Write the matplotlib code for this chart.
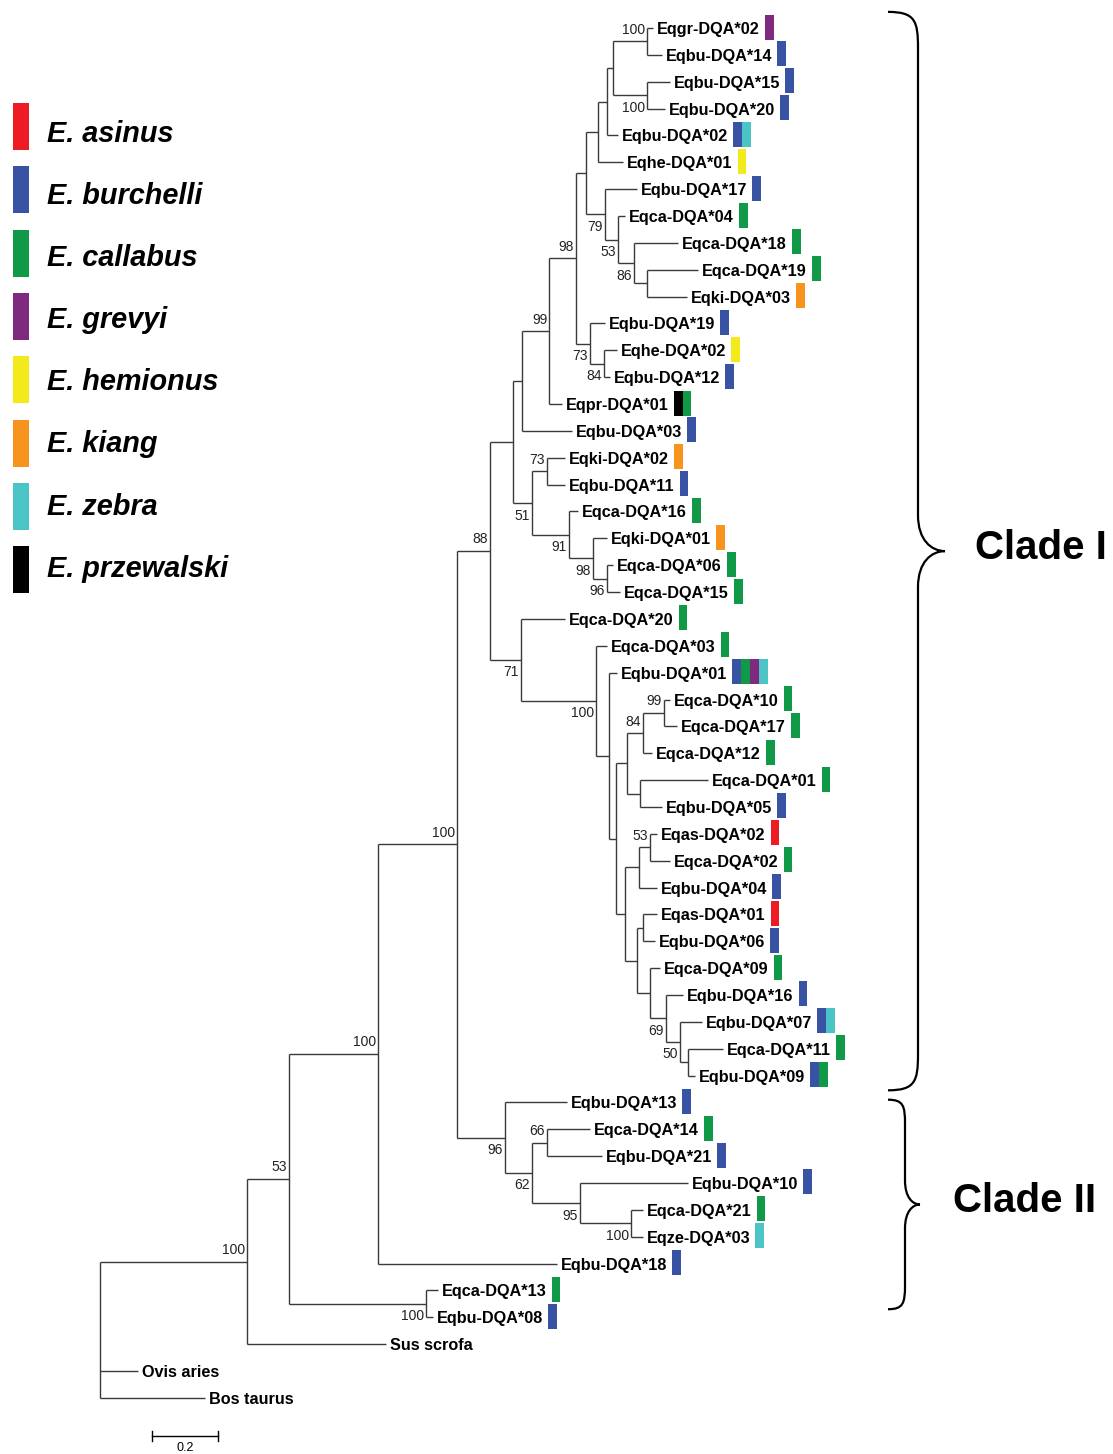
import matplotlib
matplotlib.use("Agg")
import matplotlib.pyplot as plt
from matplotlib import font_manager
from matplotlib.path import Path
from matplotlib.patches import PathPatch, Rectangle

# ---- leaves (top to bottom), tip depth from root, species carrying the allele
leaf_names = [
    "Eqgr-DQA*02", "Eqbu-DQA*14", "Eqbu-DQA*15", "Eqbu-DQA*20", "Eqbu-DQA*02",
    "Eqhe-DQA*01", "Eqbu-DQA*17", "Eqca-DQA*04", "Eqca-DQA*18", "Eqca-DQA*19",
    "Eqki-DQA*03", "Eqbu-DQA*19", "Eqhe-DQA*02", "Eqbu-DQA*12", "Eqpr-DQA*01",
    "Eqbu-DQA*03", "Eqki-DQA*02", "Eqbu-DQA*11", "Eqca-DQA*16", "Eqki-DQA*01",
    "Eqca-DQA*06", "Eqca-DQA*15", "Eqca-DQA*20", "Eqca-DQA*03", "Eqbu-DQA*01",
    "Eqca-DQA*10", "Eqca-DQA*17", "Eqca-DQA*12", "Eqca-DQA*01", "Eqbu-DQA*05",
    "Eqas-DQA*02", "Eqca-DQA*02", "Eqbu-DQA*04", "Eqas-DQA*01", "Eqbu-DQA*06",
    "Eqca-DQA*09", "Eqbu-DQA*16", "Eqbu-DQA*07", "Eqca-DQA*11", "Eqbu-DQA*09",
    "Eqbu-DQA*13", "Eqca-DQA*14", "Eqbu-DQA*21", "Eqbu-DQA*10", "Eqca-DQA*21",
    "Eqze-DQA*03", "Eqbu-DQA*18", "Eqca-DQA*13", "Eqbu-DQA*08", "Sus scrofa",
    "Ovis aries", "Bos taurus",
]
leaf_depth = [
    1.676, 1.703, 1.727, 1.712, 1.570,
    1.585, 1.627, 1.591, 1.752, 1.812,
    1.779, 1.530, 1.567, 1.545, 1.400,
    1.430, 1.409, 1.409, 1.448, 1.536,
    1.555, 1.576, 1.409, 1.536, 1.567,
    1.727, 1.748, 1.673, 1.842, 1.703,
    1.688, 1.727, 1.688, 1.688, 1.682,
    1.697, 1.767, 1.824, 1.888, 1.803,
    1.415, 1.485, 1.521, 1.782, 1.645,
    1.645, 1.385, 1.024, 1.009, 0.867,
    0.115, 0.318,
]
leaf_species = [
    "gr", "bu", "bu", "bu", "bu ze",
    "he", "bu", "ca", "ca", "ca",
    "ki", "bu", "he", "bu", "pr ca",
    "bu", "ki", "bu", "ca", "ki",
    "ca", "ca", "ca", "ca", "bu ca gr ze",
    "ca", "ca", "ca", "ca", "bu",
    "as", "ca", "bu", "as", "bu",
    "ca", "bu", "bu ze", "ca", "bu ca",
    "bu", "ca", "bu", "bu", "ca",
    "ze", "bu", "ca", "bu", "",
    "", "",
]

# ---- internal nodes: depth from root, children, bootstrap support
node_ids = [
    "root", "B", "C", "D", "E", "F", "G", "N", "P", "R", "S", "AQ", "AP", "AO",
    "AN", "AL", "AM", "AR", "AS", "AT", "AU", "AK", "AV", "Q", "AW", "AX", "AY",
    "AZ", "O", "T", "U", "V", "X", "Y", "AA", "Z", "W", "AB", "AC", "AD", "AE",
    "AF", "AG", "AH", "AI", "H", "I", "J", "K", "L",
]
node_depth = [
    0.000, 0.445, 0.573, 0.842, 0.988, 1.082, 1.182, 1.252, 1.279, 1.361, 1.442,
    1.473, 1.509, 1.536, 1.555, 1.658, 1.658, 1.530, 1.570, 1.618, 1.658, 1.485,
    1.527, 1.309, 1.355, 1.421, 1.494, 1.536, 1.276, 1.503, 1.542, 1.564, 1.597,
    1.645, 1.709, 1.636, 1.591, 1.633, 1.667, 1.627, 1.645, 1.667, 1.715, 1.758,
    1.782, 1.227, 1.309, 1.355, 1.455, 1.609,
]
node_children = [
    ["B", "Ovis aries", "Bos taurus"],
    ["C", "Sus scrofa"],
    ["D", "E"],
    ["F", "Eqbu-DQA*18"],
    ["Eqca-DQA*13", "Eqbu-DQA*08"],
    ["G", "H"],
    ["N", "O"],
    ["P", "Q"],
    ["R", "Eqbu-DQA*03"],
    ["S", "Eqpr-DQA*01"],
    ["AQ", "AK"],
    ["AP", "AR"],
    ["AO", "Eqhe-DQA*01"],
    ["AN", "Eqbu-DQA*02"],
    ["AL", "AM"],
    ["Eqgr-DQA*02", "Eqbu-DQA*14"],
    ["Eqbu-DQA*15", "Eqbu-DQA*20"],
    ["Eqbu-DQA*17", "AS"],
    ["Eqca-DQA*04", "AT"],
    ["Eqca-DQA*18", "AU"],
    ["Eqca-DQA*19", "Eqki-DQA*03"],
    ["Eqbu-DQA*19", "AV"],
    ["Eqhe-DQA*02", "Eqbu-DQA*12"],
    ["AW", "AX"],
    ["Eqki-DQA*02", "Eqbu-DQA*11"],
    ["Eqca-DQA*16", "AY"],
    ["Eqki-DQA*01", "AZ"],
    ["Eqca-DQA*06", "Eqca-DQA*15"],
    ["Eqca-DQA*20", "T"],
    ["Eqca-DQA*03", "U"],
    ["Eqbu-DQA*01", "V"],
    ["X", "W"],
    ["Y", "Z"],
    ["AA", "Eqca-DQA*12"],
    ["Eqca-DQA*10", "Eqca-DQA*17"],
    ["Eqca-DQA*01", "Eqbu-DQA*05"],
    ["AB", "AD"],
    ["AC", "Eqbu-DQA*04"],
    ["Eqas-DQA*02", "Eqca-DQA*02"],
    ["AE", "AF"],
    ["Eqas-DQA*01", "Eqbu-DQA*06"],
    ["Eqca-DQA*09", "AG"],
    ["Eqbu-DQA*16", "AH"],
    ["Eqbu-DQA*07", "AI"],
    ["Eqca-DQA*11", "Eqbu-DQA*09"],
    ["Eqbu-DQA*13", "I"],
    ["J", "K"],
    ["Eqca-DQA*14", "Eqbu-DQA*21"],
    ["Eqbu-DQA*10", "L"],
    ["Eqca-DQA*21", "Eqze-DQA*03"],
]
node_support = [
    None, 100, 53, 100, 100, 100, 88, None, None, 99, 98, None, None, None,
    None, 100, 100, 79, 53, 86, None, 73, 84, 51, 73, 91, 98,
    96, 71, 100, None, None, None, 84, 99, None, None, None, 53, None, None,
    None, 69, 50, None, 96, 62, 66, 95, 100,
]
support_below = [
    False, False, False, False, True, False, False, False, False, False, False, False, False, False,
    False, False, True, True, True, True, False, True, True, True, False, True, True,
    True, True, True, False, False, False, False, False, False, False, False, False, False, False,
    False, True, True, False, True, True, False, True, True,
]

species_codes = ["as", "bu", "ca", "gr", "he", "ki", "ze", "pr"]
species_names = ["E. asinus", "E. burchelli", "E. callabus", "E. grevyi",
                 "E. hemionus", "E. kiang", "E. zebra", "E. przewalski"]
species_colors = ["#ed1c24", "#3953a4", "#109a47", "#7e2a7e",
                  "#f2ea1a", "#f7941d", "#4bc4c6", "#000000"]

clade_labels = ["Clade I", "Clade II"]
clade_rows = [(-0.6, 39.55), (39.9, 47.7)]

scale_len = 0.2

# ---- layout (pixels)
W, H = 1113, 1454
px_unit = 330.0      # pixels per substitution unit
px_row = 26.86       # pixels per leaf row
x0_px, y0_px = 100, 28

installed = {f.name for f in font_manager.fontManager.ttflist}
if "Liberation Sans Narrow" in installed:
    leaf_font, leaf_size = "Liberation Sans Narrow", 13.8
else:
    leaf_font, leaf_size = "Liberation Sans", 11.7
plt.rcParams["font.family"] = ["Liberation Sans", "DejaVu Sans"]

depth = dict(zip(leaf_names, leaf_depth))
depth.update(zip(node_ids, node_depth))
children = dict(zip(node_ids, node_children))
row = {n: i for i, n in enumerate(leaf_names)}


def place(n):
    if n in row:
        return row[n]
    ys = [place(c) for c in children[n]]
    row[n] = (ys[0] + ys[-1]) / 2
    return row[n]


place("root")

fig = plt.figure(figsize=(W / 100, H / 100), dpi=100)
ax = fig.add_axes([0, 0, 1, 1])
ax.set_xlim(-x0_px / px_unit, (W - x0_px) / px_unit)
ax.set_ylim((H - y0_px) / px_row, -y0_px / px_row)
ax.axis("off")

line_c = "#3a3a3a"
for n, kids in zip(node_ids, node_children):
    ys = [row[k] for k in kids]
    ax.plot([depth[n], depth[n]], [ys[0], ys[-1]], color=line_c, lw=1.0,
            solid_capstyle="butt")
    for k in kids:
        ax.plot([depth[n], depth[k]], [row[k], row[k]], color=line_c, lw=1.0,
                solid_capstyle="butt")

pt = 0.72  # points per pixel at 100 dpi
leaf_texts = []
for name in leaf_names:
    t = ax.annotate(name, (depth[name], row[name]), xytext=(4 * pt, -1.5 * pt),
                    textcoords="offset points", ha="left", va="center",
                    fontsize=leaf_size, fontweight="bold", family=leaf_font,
                    color="black")
    leaf_texts.append(t)

for n, s, below in zip(node_ids, node_support, support_below):
    if s is None:
        continue
    dy = -12.5 if below else 11.5
    ax.annotate(str(s), (depth[n], row[n]), xytext=(-2 * pt, dy * pt),
                textcoords="offset points", ha="right", va="center",
                fontsize=10, color="#222222")

# scale bar
sb_x, sb_row = 0.158, (1436 - y0_px) / px_row
tick = 5 / px_row
ax.plot([sb_x, sb_x + scale_len], [sb_row, sb_row], color="black", lw=1.0)
ax.plot([sb_x, sb_x], [sb_row - tick, sb_row + tick], color="black", lw=1.0)
ax.plot([sb_x + scale_len] * 2, [sb_row - tick, sb_row + tick], color="black", lw=1.0)
ax.annotate(str(scale_len), (sb_x + scale_len / 2, sb_row), xytext=(0, -6 * pt),
            textcoords="offset points", ha="center", va="top", fontsize=9)

# overlay in pixel coordinates
ov = fig.add_axes([0, 0, 1, 1])
ov.set_xlim(0, W)
ov.set_ylim(H, 0)
ov.axis("off")
ov.patch.set_alpha(0)

fig.canvas.draw()
renderer = fig.canvas.get_renderer()
color_of = dict(zip(species_codes, species_colors))
bar_w, bar_h = 8.8, 25
for name, sp, t in zip(leaf_names, leaf_species, leaf_texts):
    if not sp:
        continue
    bb = t.get_window_extent(renderer)
    x = bb.x1 + 5
    yc = y0_px + row[name] * px_row - 1
    for j, code in enumerate(sp.split()):
        ov.add_patch(Rectangle((x + j * bar_w, yc - bar_h / 2), bar_w, bar_h,
                               facecolor=color_of[code], edgecolor="none"))

# legend
for i, (nm, c) in enumerate(zip(species_names, species_colors)):
    cy = 126.5 + i * 63.3
    ov.add_patch(Rectangle((13, cy - 23.5), 16, 47, facecolor=c, edgecolor="none"))
    ov.text(47, 142 + i * 62.1, nm, fontsize=20.8, fontweight="bold",
            fontstyle="italic", ha="left", va="baseline")


def brace(x0, top, bot, w, tip, r):
    mid = (top + bot) / 2
    xs = x0 + w
    verts = [
        (x0, top), (x0 + w * 0.9, top), (xs, top + r * 0.25), (xs, top + r),
        (xs, mid - r),
        (xs, mid - r * 0.3), (xs + tip * 0.5, mid), (xs + tip, mid),
        (xs + tip * 0.5, mid), (xs, mid + r * 0.3), (xs, mid + r),
        (xs, bot - r),
        (xs, bot - r * 0.25), (x0 + w * 0.9, bot), (x0, bot),
    ]
    codes = [Path.MOVETO, Path.CURVE4, Path.CURVE4, Path.CURVE4, Path.LINETO,
             Path.CURVE4, Path.CURVE4, Path.CURVE4,
             Path.CURVE4, Path.CURVE4, Path.CURVE4, Path.LINETO,
             Path.CURVE4, Path.CURVE4, Path.CURVE4]
    ov.add_patch(PathPatch(Path(verts, codes), facecolor="none",
                           edgecolor="black", lw=1.6))


brace_x = [888, 888]
brace_w = [30, 17]
brace_tip = [27, 15]
brace_r = [36, 24]
label_x = [975, 953]
for lab, (r0, r1), bx, bw, bt, br, lx in zip(clade_labels, clade_rows, brace_x,
                                             brace_w, brace_tip, brace_r, label_x):
    top = y0_px + r0 * px_row
    bot = y0_px + r1 * px_row
    brace(bx, top, bot, bw, bt, br)
    ov.text(lx, (top + bot) / 2 - 3, lab, fontsize=29, fontweight="bold",
            ha="left", va="center")

fig.savefig("out.png", dpi=100)
